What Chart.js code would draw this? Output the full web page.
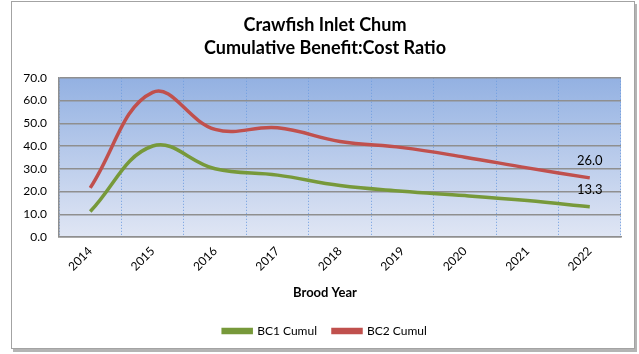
<!DOCTYPE html>
<html>
<head>
<meta charset="utf-8">
<script src="https://cdn.jsdelivr.net/npm/chart.js@4.4.1/dist/chart.umd.min.js"></script>
<style>
	html, body { margin: 0; padding: 0; background: #fff; overflow: hidden; }
	#wrap { position: relative; width: 639px; height: 354px; overflow: hidden; }
	#frame {
		position: absolute; left: 11px; top: 1px; width: 624px; height: 348px;
		box-sizing: border-box; border: 1px solid #a3a3a3;
		box-shadow: 2px 3px 0 #b4b4b4; background: #fff;
	}
	#chart { position: absolute; left: 0; top: 0; }
</style>
</head>
<body>
<div id="wrap">
	<div id="frame"></div>
	<canvas id="chart" width="650" height="354"></canvas>
</div>
<script>
	'use strict';

	var years = ['2014', '2015', '2016', '2017', '2018', '2019', '2020', '2021', '2022'];
	var bc1Cumul = [11.2, 40.0, 30.0, 27.2, 22.6, 20.1, 18.2, 16.0, 13.3];
	var bc2Cumul = [21.6, 63.6, 47.3, 48.0, 42.0, 39.3, 35.1, 30.4, 26.0];
	var yTicks = [0, 10, 20, 30, 40, 50, 60, 70];

	var FONT = 'Lato, "Open Sans", sans-serif';

	/**
	 * Blue gradient behind the plot area
	 */
	var plotBackground = {
		id: 'plotBackground',
		beforeDraw: function (chart) {
			var a = chart.chartArea,
				ctx = chart.ctx,
				grad = ctx.createLinearGradient(0, a.top, 0, a.bottom);

			grad.addColorStop(0, '#93b1e2');
			grad.addColorStop(1, '#e0e6f4');
			ctx.save();
			ctx.fillStyle = grad;
			ctx.fillRect(a.left, a.top, a.right - a.left, a.bottom - a.top);
			ctx.restore();
		}
	};

	/**
	 * Axis title under the year labels, and value labels on the last points
	 */
	var extraText = {
		id: 'extraText',
		afterDraw: function (chart) {
			var ctx = chart.ctx;

			ctx.save();
			ctx.fillStyle = '#000';
			ctx.textAlign = 'center';
			ctx.textBaseline = 'middle';
			ctx.font = 'bold 13px ' + FONT;
			ctx.fillText('Brood Year', chart.width / 2, 293);

			ctx.font = '13px ' + FONT;
			chart.data.datasets.forEach(function (ds, i) {
				var meta = chart.getDatasetMeta(i),
					last = ds.data.length - 1,
					pt = meta.data[last];

				ctx.fillText(ds.data[last].toFixed(1), pt.x, pt.y - 17);
			});
			ctx.restore();
		}
	};

	new Chart(document.getElementById('chart'), {
		type: 'line',
		data: {
			labels: years,
			datasets: [{
				label: 'BC1 Cumul',
				data: bc1Cumul,
				borderColor: '#77993a',
				backgroundColor: '#77993a',
				borderWidth: 3.5,
				tension: 0.4,
				pointRadius: 0
			}, {
				label: 'BC2 Cumul',
				data: bc2Cumul,
				borderColor: '#c0504d',
				backgroundColor: '#c0504d',
				borderWidth: 3.5,
				tension: 0.4,
				pointRadius: 0
			}]
		},
		options: {
			responsive: false,
			animation: false,
			layout: { padding: { left: 0, right: 0, top: 0, bottom: 7 } },
			plugins: {
				title: {
					display: true,
					text: ['Crawfish Inlet Chum', 'Cumulative Benefit:Cost Ratio'],
					color: '#000',
					font: { family: FONT, size: 18, weight: 'bold', lineHeight: 1.3 },
					padding: { top: 13, bottom: 18 }
				},
				legend: {
					position: 'bottom',
					labels: {
						color: '#000',
						font: { family: FONT, size: 12 },
						boxWidth: 28,
						boxHeight: 3,
						padding: 16
					}
				},
				tooltip: { enabled: false }
			},
			scales: {
				x: {
					offset: true,
					grid: {
						offset: true,
						color: '#6f9de0',
						lineWidth: 1,
						drawTicks: false
					},
					border: { display: true, color: '#8f8f8f', width: 1.5, dash: [1, 2] },
					ticks: {
						color: '#000',
						font: { family: FONT, size: 12 },
						minRotation: 45,
						maxRotation: 45,
						padding: 7
					},
					afterFit: function (scale) {
						scale.height = 72;
					}
				},
				y: {
					min: 0,
					max: 70,
					afterBuildTicks: function (scale) {
						scale.ticks = yTicks.map(function (v) { return { value: v }; });
					},
					grid: {
						color: '#8f8f8f',
						lineWidth: 1.5,
						drawTicks: false
					},
					border: { display: true, color: '#8f8f8f', width: 1.5 },
					ticks: {
						color: '#000',
						font: { family: FONT, size: 12 },
						padding: 12,
						callback: function (v) { return Number(v).toFixed(1); }
					},
					afterFit: function (scale) {
						scale.width = 59;
					}
				},
				spacer: {
					position: 'right',
					display: true,
					grid: { display: false },
					border: { display: false },
					ticks: { display: false },
					afterFit: function (scale) {
						scale.width = 29;
					}
				}
			}
		},
		plugins: [plotBackground, extraText]
	});
</script>
</body>
</html>
